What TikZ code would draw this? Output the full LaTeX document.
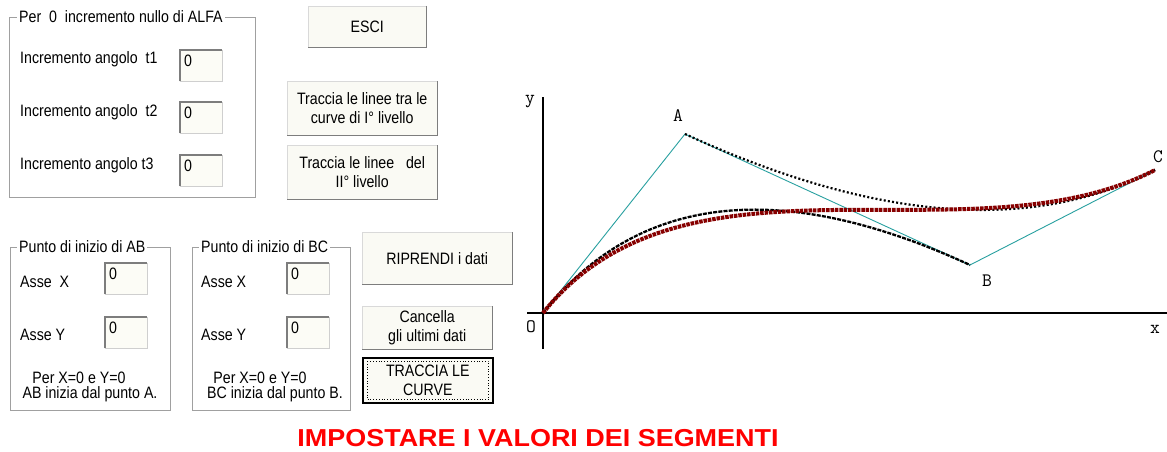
\documentclass[tikz,border=0pt]{standalone}
\usepackage{fontspec}
\usetikzlibrary{calc}
\newfontfamily\ui[FakeStretch=0.86]{Liberation Sans}
\newfontfamily\titlefont[FakeStretch=1.1]{Liberation Sans}
\definecolor{btnbg}{RGB}{250,250,244}
\definecolor{fieldbg}{RGB}{252,252,246}
\definecolor{framec}{RGB}{160,160,160}
\definecolor{shadec}{RGB}{125,125,125}
\definecolor{cyanline}{RGB}{40,160,160}
\definecolor{curvered}{RGB}{135,0,0}
\definecolor{titlered}{RGB}{255,0,0}
\newcommand{\uifield}[2]{%
  \node[fieldbox] (#1) at (#2) {};
  \draw[shadec, line width=1.4pt] (#1.south west) |- (#1.north east);
  \node[uitext, anchor=north west] (#1v) at ($(#1.north west)+(4,5)$) {0};
}
\newcommand{\btnshade}[1]{\draw[shadec, line width=1.3pt] (#1.north east) |- (#1.south west);}
\begin{document}
\begin{tikzpicture}[x=1pt,y=-1pt,
  uitext/.style={font=\ui\fontsize{16.5}{18.5}\selectfont, inner sep=0pt},
  lbl/.style={uitext, anchor=west},
  gbox/.style={draw=framec, line width=0.9pt},
  gtitle/.style={uitext, anchor=west, fill=white, inner xsep=2pt, inner ysep=1pt},
  fieldbox/.style={draw=framec!50, fill=fieldbg, minimum width=42pt, minimum height=31pt, inner sep=0pt, anchor=north west},
  button/.style={draw=framec!40, fill=btnbg, uitext, align=center, inner sep=0pt, anchor=north west},
  chartlbl/.style={font=\ttfamily\fontsize{19}{19}\selectfont, inner sep=0pt},
  axis/.style={line width=2pt, black}
]
\useasboundingbox (0,0) rectangle (1167,452);
\fill[white] (0,0) rectangle (1167,452);

% group 1
\draw[gbox] (9,17) rectangle (255,197);
\node[gtitle] (g1t) at (17,17) {Per\ \ 0\ \ incremento nullo di ALFA};
\node[lbl] (l1) at (20,59) {Incremento angolo\ \ t1};
\node[lbl] (l2) at (20,112) {Incremento angolo\ \ t2};
\node[lbl] (l3) at (20,165) {Incremento angolo t3};
\uifield{ft1}{180,50}
\uifield{ft2}{180,102}
\uifield{ft3}{180,155}

% group AB
\draw[gbox] (10,247) rectangle (170,410);
\node[gtitle] (gabt) at (17,247) {Punto di inizio di AB};
\node[lbl] (abx) at (20,282) {Asse\ \ X};
\node[lbl] (aby) at (20,335) {Asse Y};
\uifield{fabx}{105,263}
\uifield{faby}{105,317}
\node[uitext] (abn1) at (79,378) {Per X=0 e Y=0};
\node[uitext] (abn2) at (90,394) {AB inizia dal punto A.};

% group BC
\draw[gbox] (192,247) rectangle (350,410);
\node[gtitle] (gbct) at (199,247) {Punto di inizio di BC};
\node[lbl] (bcx) at (201,282) {Asse X};
\node[lbl] (bcy) at (201,335) {Asse Y};
\uifield{fbcx}{287,263}
\uifield{fbcy}{287,317}
\node[uitext] (bcn1) at (260,378) {Per X=0 e Y=0};
\node[uitext] (bcn2) at (275,394) {BC inizia dal punto B.};

% buttons
\node[button, minimum width=118pt, minimum height=41pt] (esci) at (308,6) {ESCI};
\btnshade{esci}
\node[button, minimum width=150pt, minimum height=54pt] (b1) at (287,81) {Traccia le linee tra le\\curve di I° livello};
\btnshade{b1}
\node[button, minimum width=150pt, minimum height=54pt] (b2) at (287,145) {Traccia le linee\ \ \ del\\II° livello};
\btnshade{b2}
\node[button, minimum width=150pt, minimum height=52pt] (rip) at (362,232) {RIPRENDI i dati};
\btnshade{rip}
\node[button, minimum width=130pt, minimum height=43pt] (canc) at (362,306) {Cancella\\gli ultimi dati};
\btnshade{canc}
\node[button, draw=black, line width=1.6pt, minimum width=130pt, minimum height=45pt] (tc) at (362,357) {TRACCIA LE\\CURVE};
\draw[black, dotted, line width=0.8pt] ($(tc.north west)+(5,4)$) rectangle ($(tc.south east)+(-5,-4)$);

% chart
\coordinate (O) at (543,313);
\coordinate (A) at (685,134);
\coordinate (B) at (970,265);
\coordinate (C) at (1155,170);
\coordinate (ytop) at (543,97);
\coordinate (ybot) at (543,349);
\coordinate (xl) at (527,313);
\coordinate (xr) at (1167,313);
\draw[axis] (ytop) -- (ybot);
\draw[axis] (xl) -- (xr);
\draw[cyanline, line width=0.9pt] (O) -- (A) -- (B) -- (C);
\draw[black, line width=2.3pt, dash pattern=on 4pt off 1.2pt] (O) .. controls ($(O)!2/3!(A)$) and ($(B)!2/3!(A)$) .. (B);
\draw[black, line width=2.2pt, dash pattern=on 2pt off 2.2pt] (A) .. controls ($(A)!2/3!(B)$) and ($(C)!2/3!(B)$) .. (C);
\draw[curvered, line width=4pt, dash pattern=on 3.5pt off 0.9pt] (O) .. controls (A) and (B) .. (C);
\node[chartlbl] (ly) at (530,102) {y};
\node[chartlbl] (lo) at (531,327) {O};
\node[chartlbl] (lx) at (1155,329) {x};
\node[chartlbl] (la) at (678,116) {A};
\node[chartlbl] (lb) at (987,281) {B};
\node[chartlbl] (lc) at (1158,157) {C};

% title
\node[font=\titlefont\bfseries\fontsize{24.5}{26}\selectfont, text=titlered, inner sep=0pt] (title) at (538,438) {IMPOSTARE I VALORI DEI SEGMENTI};
\end{tikzpicture}
\end{document}
